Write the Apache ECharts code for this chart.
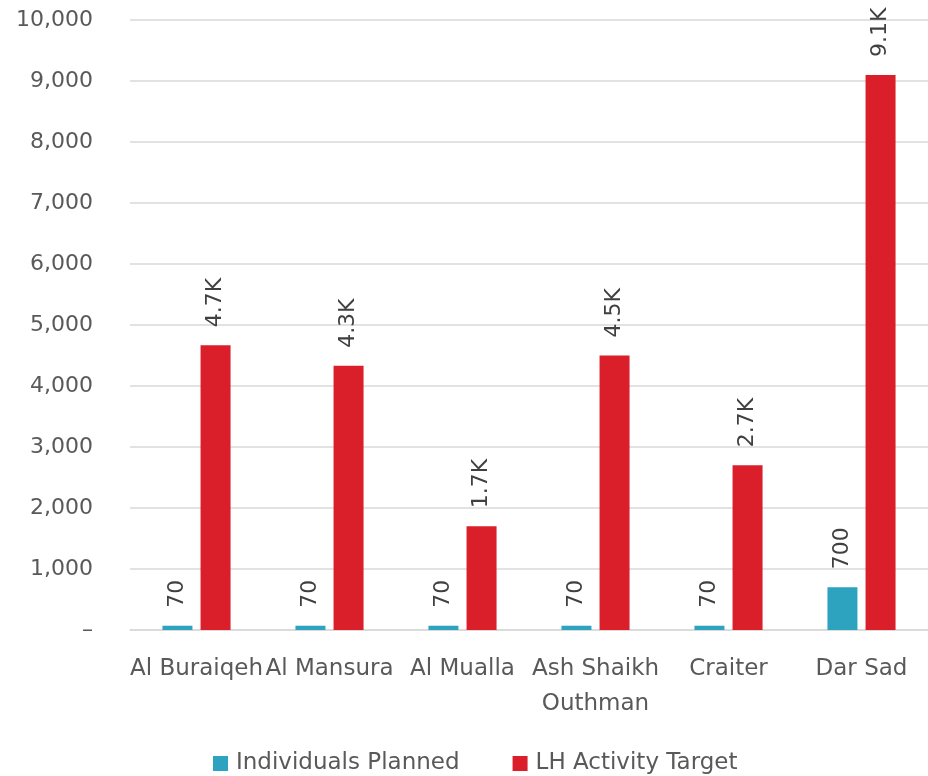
<!DOCTYPE html>
<html>
<head>
<meta charset="utf-8">
<script src="https://cdn.jsdelivr.net/npm/echarts@6/dist/echarts.min.js"></script>
<style>html,body{margin:0;padding:0;background:#fff}#c{width:928px;height:776px}</style>
</head>
<body>
<div id="c"></div>
<script>
const categories = ['Al Buraiqeh', 'Al Mansura', 'Al Mualla', 'Ash Shaikh\nOuthman', 'Craiter', 'Dar Sad'];
const individualsPlanned = [70, 70, 70, 70, 70, 700];
const lhActivityTarget = [4670, 4330, 1700, 4500, 2700, 9100];
const seriesNames = ['Individuals Planned', 'LH Activity Target'];

const FONT = 'DejaVu Sans';
const TXT = '#595959';
function fmtLabel(v) {
  return v >= 1000 ? (v / 1000).toFixed(1) + 'K' : String(v);
}
const chart = echarts.init(document.getElementById('c'));
const labelCfg = {
  show: true, position: 'top', rotate: 90, align: 'left', verticalAlign: 'middle',
  distance: 18, color: '#404040', fontFamily: FONT, fontSize: 22,
  formatter: p => fmtLabel(p.value)
};
chart.setOption({
  animation: false,
  textStyle: { fontFamily: FONT },
  grid: { left: 130, right: 0, top: 20, bottom: 146, containLabel: false },
  legend: {
    bottom: -4, left: 208, itemWidth: 15, itemHeight: 15, itemGap: 53,
    icon: 'rect',
    textStyle: { fontFamily: FONT, fontSize: 23, color: TXT, padding: [0, 0, 0, 3] },
    data: seriesNames
  },
  xAxis: {
    type: 'category', data: categories,
    axisLine: { lineStyle: { color: '#d9d9d9', width: 1.5 } },
    axisTick: { show: false },
    axisLabel: {
      interval: 0, margin: 22,
      formatter: v => v.split('\n').map(s => '{a|' + s + '}').join('\n'),
      rich: { a: { color: TXT, fontFamily: FONT, fontSize: 23, lineHeight: 35 } }
    }
  },
  yAxis: {
    type: 'value', min: 0, max: 10000, interval: 1000,
    axisLine: { show: false }, axisTick: { show: false },
    splitLine: { lineStyle: { color: '#d9d9d9', width: 1.5 } },
    axisLabel: {
      color: TXT, fontFamily: FONT, fontSize: 22, margin: 37,
      formatter: v => v === 0 ? '–' : v.toLocaleString('en-US')
    }
  },
  series: [
    { name: seriesNames[0], type: 'bar', data: individualsPlanned, barWidth: 30, barGap: '27%',
      itemStyle: { color: '#2ea3bf' }, label: labelCfg },
    { name: seriesNames[1], type: 'bar', data: lhActivityTarget, barWidth: 30,
      itemStyle: { color: '#da1f2a' }, label: labelCfg }
  ]
});
</script>
</body>
</html>
